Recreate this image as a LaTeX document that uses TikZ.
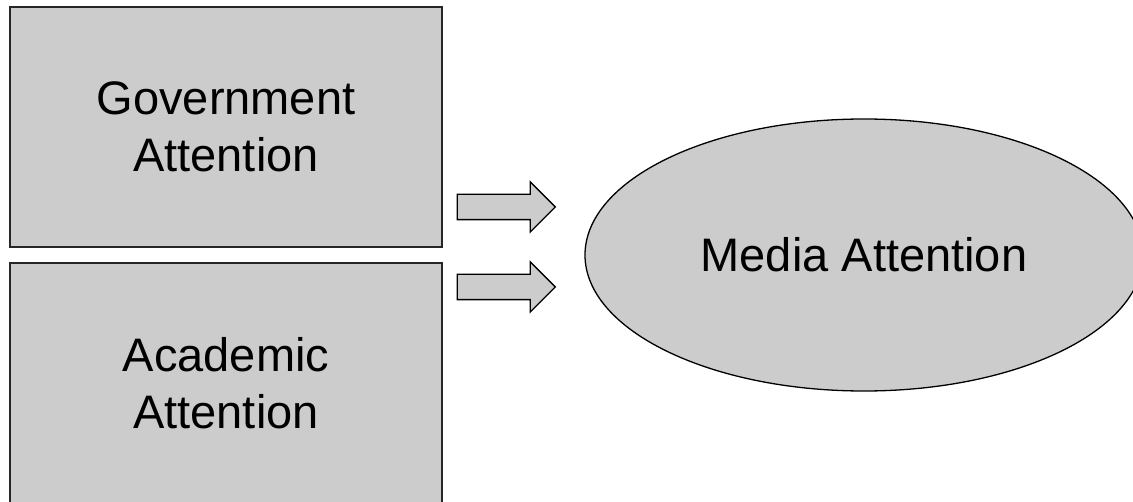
\documentclass[tikz,border=0pt]{standalone}
\usepackage{fontspec}
\setmainfont{Liberation Sans}
\usetikzlibrary{shapes.geometric,shapes.arrows}
\definecolor{boxgray}{HTML}{CCCCCC}
\tikzset{
    attnbox/.style={draw=black!85, line width=2pt, fill=boxgray, minimum width=432pt, minimum height=240pt, inner sep=0pt, align=center, font=\fontsize{47}{57}\selectfont},
    mediaellipse/.style={ellipse, draw=black, line width=1.3pt, fill=boxgray, minimum width=558pt, minimum height=272pt, inner sep=0pt, font=\fontsize{47}{57}\selectfont},
    fatarrow/.style={single arrow, draw=black, line width=1.3pt, fill=boxgray, minimum height=98pt, inner sep=12pt, single arrow head extend=12.5pt, single arrow head indent=0pt}
}
\begin{document}
\begin{tikzpicture}[x=1pt,y=-1pt]
                \useasboundingbox (0,0) rectangle (1133,502);
                \node[attnbox] (govbox) at (226,127) {Government\\Attention};
                \node[attnbox] (acadbox) at (226,383) {Academic\\Attention};

                \node[mediaellipse] (media) at (864,255) {Media Attention};

                \node[fatarrow] (govarrow) at (500,207) {};
                \node[fatarrow] (acadarrow) at (500,287) {};
            \end{tikzpicture}
\end{document}
